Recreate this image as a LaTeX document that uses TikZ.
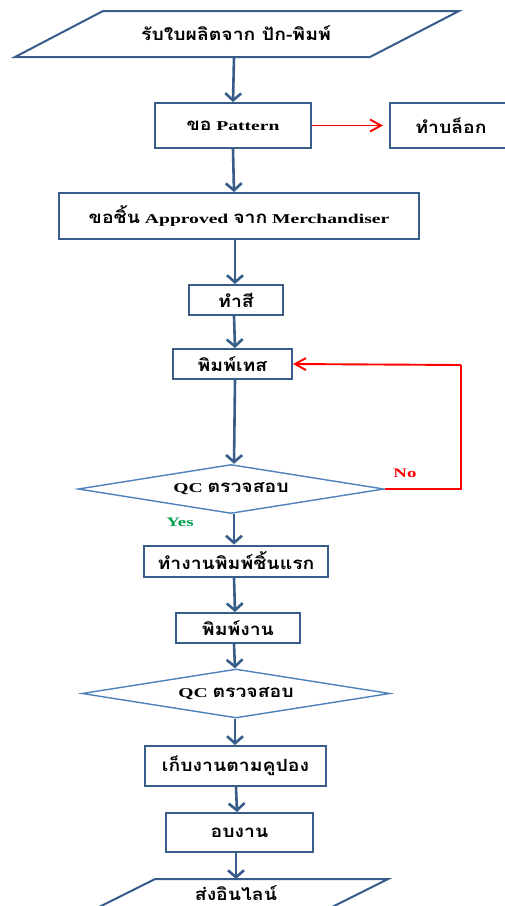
\documentclass[tikz,border=0pt]{standalone}
\usepackage{fontspec}
\setmainfont{Liberation Serif}[FakeStretch=1.45]
\newfontfamily\thaifont[Script=Thai,FakeStretch=1.15,Scale=1.25]{Loma}
\newcommand{\thx}[1]{{\thaifont #1}}
\usetikzlibrary{shapes.geometric,arrows.meta}
\definecolor{boxblue}{RGB}{56,93,138}
\definecolor{diablue}{RGB}{79,129,189}
\definecolor{yesgreen}{RGB}{0,160,80}
\tikzset{
  txt/.style={font=\bfseries\fontsize{13.5}{15}\selectfont},
  box/.style={draw=boxblue,line width=2pt,rectangle,inner sep=0pt,txt},
  dia/.style={draw=diablue,line width=1.4pt,diamond,inner sep=0pt,txt},
  para/.style={draw=boxblue,line width=2pt},
  ptext/.style={inner sep=0pt,txt},
  conn/.style={draw=boxblue,line width=2.6pt,-{Straight Barb[length=7pt,width=16pt]}},
  rconn/.style={draw=red,line width=1.9pt,-{Straight Barb[length=11pt,width=12pt]}},
  rline/.style={draw=red,line width=2pt},
  lbl/.style={inner sep=0pt,font=\bfseries\fontsize{13}{15}\selectfont}
}
\begin{document}
\begin{tikzpicture}[x=1pt,y=-1pt]
\clip (0,0) rectangle (505,906);
\fill[white] (0,0) rectangle (505,906);
% top parallelogram
\draw[para] (103,11) -- (459,11) -- (370,57) -- (15,57) -- cycle;
\node[ptext] (start) at (236,33) {\thx{รับใบผลิตจาก ปัก-พิมพ์}};
\coordinate (startb) at (234,57);
% boxes
\node[box,minimum width=156pt,minimum height=45pt] (pattern) at (233,125.5) {\thx{ขอ} Pattern};
\node[box,minimum width=122pt,minimum height=45pt] (block) at (451,125.5) {\thx{ทำบล็อก}};
\node[box,minimum width=360pt,minimum height=46pt] (approved) at (239,216) {\thx{ขอชิ้น} Approved \thx{จาก} Merchandiser};
\node[box,minimum width=94pt,minimum height=30pt] (color) at (236,300) {\thx{ทำสี}};
\node[box,minimum width=119pt,minimum height=30pt] (test) at (232.5,364) {\thx{พิมพ์เทส}};
\node[dia,minimum width=306pt,minimum height=49pt,aspect=6.2] (d1) at (231,489) {QC \thx{ตรวจสอบ}};
\node[box,minimum width=184pt,minimum height=31pt] (first) at (236,561) {\thx{ทำงานพิมพ์ชิ้นแรก}};
\node[box,minimum width=124pt,minimum height=30pt] (print) at (238,628) {\thx{พิมพ์งาน}};
\node[dia,minimum width=308pt,minimum height=49pt,aspect=6.2] (d2) at (236,693.5) {QC \thx{ตรวจสอบ}};
\node[box,minimum width=181pt,minimum height=40pt] (coupon) at (235.5,766) {\thx{เก็บงานตามคูปอง}};
\node[box,minimum width=147pt,minimum height=39pt] (bake) at (239.5,832.5) {\thx{อบงาน}};
% bottom parallelogram
\draw[para] (155,879) -- (388,879) -- (296,925) -- (63,925) -- cycle;
\coordinate (endt) at (236,879);
\node[ptext] (end) at (236,893) {\thx{ส่งอินไลน์}};
% connectors
\draw[conn] (startb) -- (pattern.north);
\draw[rconn] (pattern.east) -- ([xshift=-6pt]block.west);
\draw[conn] (pattern.south) -- ([xshift=1pt]pattern.south |- approved.north);
\draw[conn] ([xshift=-4pt]approved.south) -- ([xshift=-1pt]color.north);
\draw[conn] ([xshift=-2pt]color.south) -- ([xshift=2.5pt]test.north);
\draw[conn] ([xshift=2.5pt]test.south) -- ([xshift=3pt]d1.north);
\coordinate (nr) at (461,489);
\coordinate (nt) at (461,365);
\draw[rline] (d1.east) -- (nr) -- (nt);
\draw[rconn] (nt) -- (test.east);
\node[lbl,text=red] (no) at (405,473) {No};
\node[lbl,text=yesgreen] (yes) at (180,522) {Yes};
\draw[conn] ([xshift=3pt]d1.south) -- ([xshift=-2pt]first.north);
\draw[conn] ([xshift=-2pt]first.south) -- ([xshift=-3pt]print.north);
\draw[conn] ([xshift=-4pt]print.south) -- ([xshift=-1pt]d2.north);
\draw[conn] ([xshift=-1pt]d2.south) -- ([xshift=-0.5pt]coupon.north);
\draw[conn] ([xshift=0.5pt]coupon.south) -- ([xshift=-2.5pt]bake.north);
\draw[conn] ([xshift=-3.5pt]bake.south) -- (endt);
\end{tikzpicture}
\end{document}
